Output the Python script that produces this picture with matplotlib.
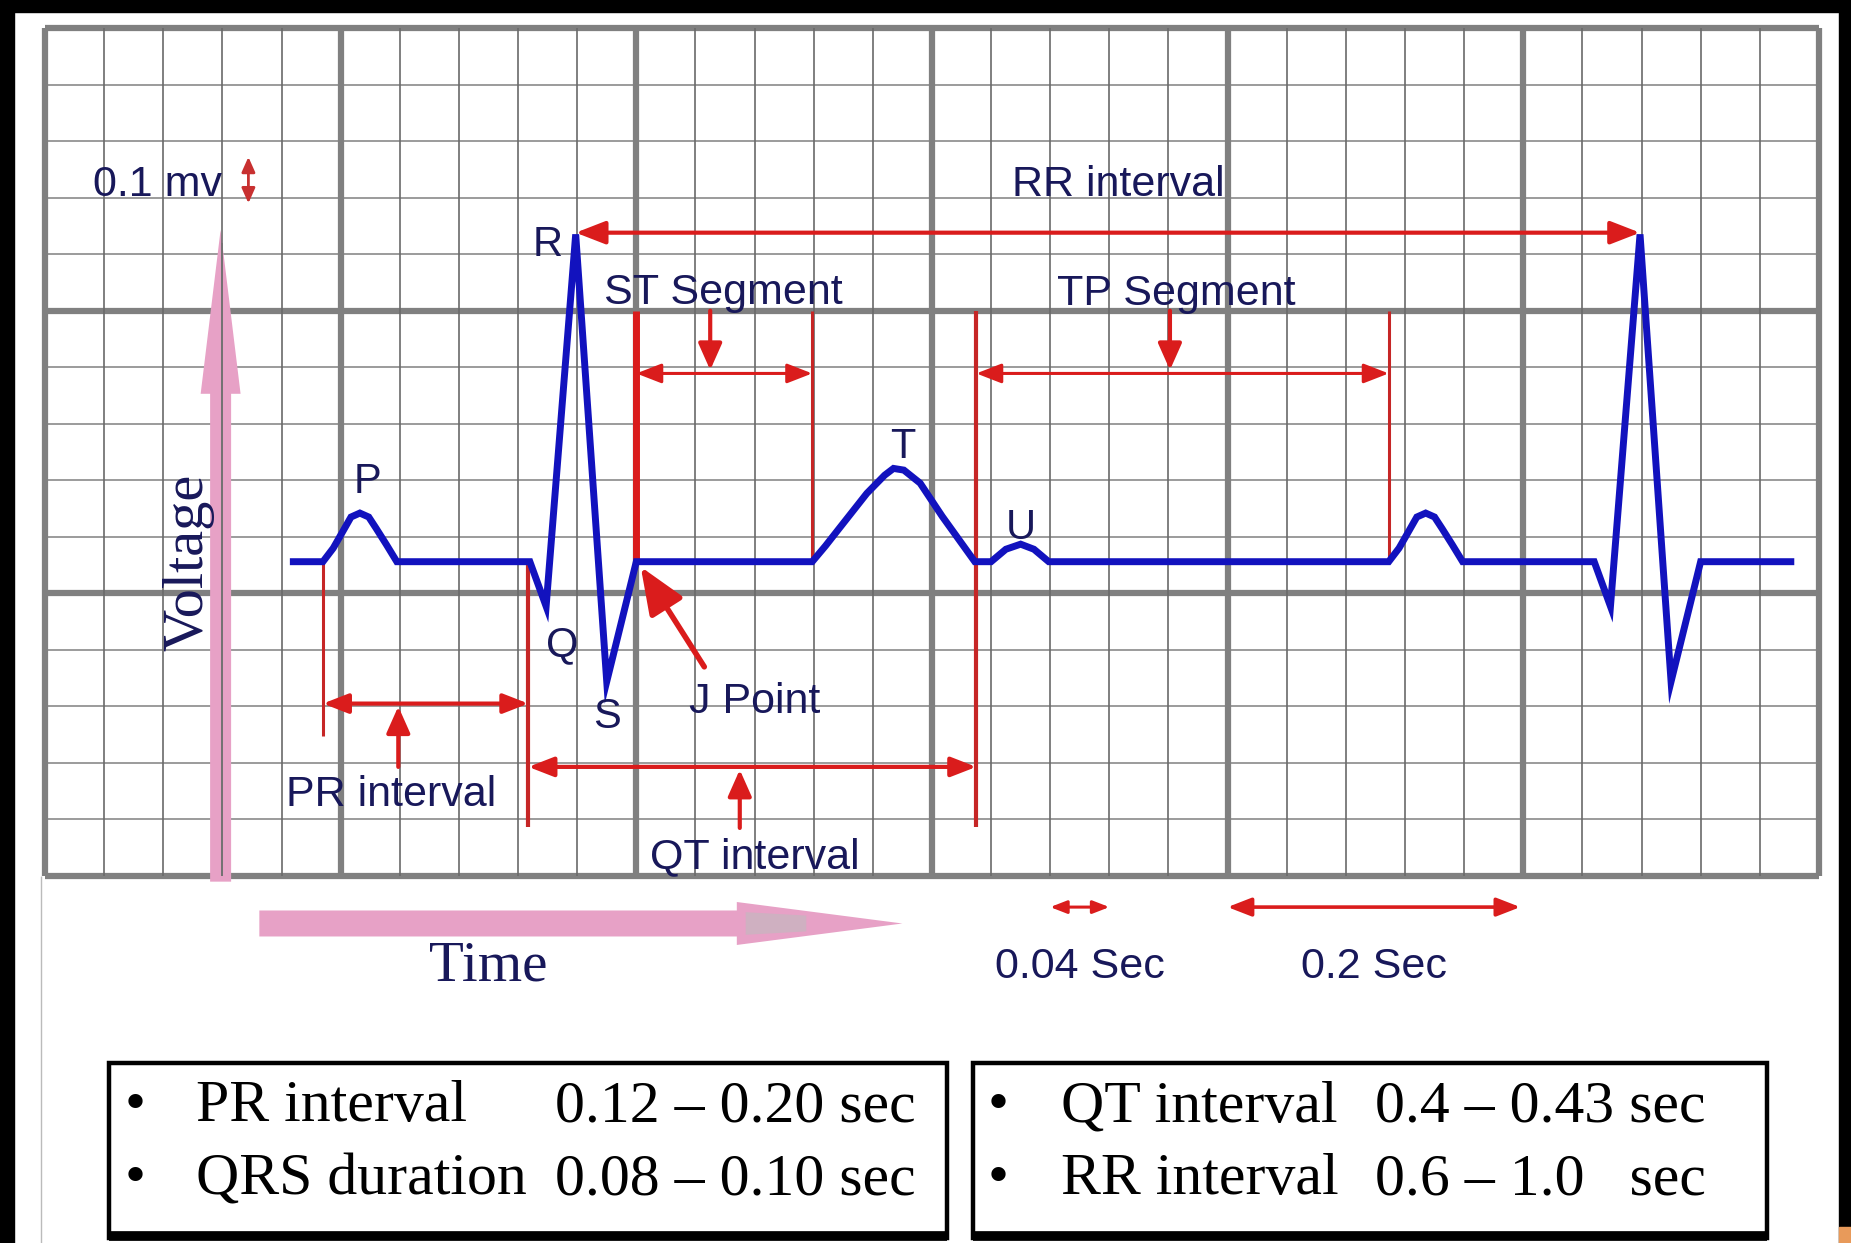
import numpy as np
import matplotlib
matplotlib.use("Agg")
import matplotlib.pyplot as plt
from matplotlib.patches import Rectangle, Polygon

# ===== ECG trace (time in s, paper voltage in mV; 1 small box = 0.04 s x 0.1 mV) =====
ecg_t = [0.168, 0.188, 0.195, 0.202, 0.207, 0.213, 0.219, 0.224, 0.231, 0.238,
         0.328, 0.339, 0.359, 0.380, 0.400,
         0.519, 0.528, 0.537, 0.556, 0.568, 0.574, 0.581, 0.592, 0.607, 0.629,
         0.640, 0.650, 0.660, 0.669, 0.679,
         0.909, 0.916, 0.923, 0.928, 0.934, 0.940, 0.945, 0.952, 0.959,
         1.048, 1.059, 1.079, 1.100, 1.120, 1.181]
ecg_v = [0.556, 0.556, 0.580, 0.612, 0.635, 0.642, 0.635, 0.615, 0.586, 0.556,
         0.556, 0.477, 1.135, 0.344, 0.556,
         0.556, 0.584, 0.614, 0.677, 0.709, 0.721, 0.718, 0.695, 0.636, 0.556,
         0.556, 0.578, 0.587, 0.578, 0.556,
         0.556, 0.580, 0.612, 0.635, 0.642, 0.635, 0.615, 0.586, 0.556,
         0.556, 0.477, 1.135, 0.344, 0.556, 0.556]

# wave labels
wave_names = ["P", "Q", "R", "S", "T", "U"]
wave_x = [0.218, 0.350, 0.340, 0.380, 0.580, 0.660]
wave_y = [0.697, 0.409, 1.117, 0.282, 0.758, 0.616]

# interval markers (vertical bounds): x, y_top, y_bottom, width
bound_x = [0.188, 0.327, 0.400, 0.519, 0.630, 0.909]
bound_top = [0.556, 0.556, 1.000, 1.000, 1.000, 1.000]
bound_bot = [0.247, 0.087, 0.556, 0.556, 0.087, 0.556]
bound_lw = [2.2, 3.0, 5.0, 2.2, 3.0, 2.2]

# double-headed interval arrows: x_start, x_end, y
span_names = ["RR", "ST", "TP", "PR", "QT", "0.04", "0.2"]
span_x0 = [0.359, 0.400, 0.630, 0.188, 0.327, 0.680, 0.800]
span_x1 = [1.079, 0.519, 0.909, 0.327, 0.630, 0.720, 0.998]
span_y = [1.138, 0.889, 0.889, 0.305, 0.193, -0.055, -0.055]
span_lw = [3.0, 2.2, 2.2, 3.0, 3.0, 2.2, 2.6]
span_head = [20, 17, 17, 17, 17, 11, 16]

# pointer arrows: x, y_from, y_to
ptr_x = [0.450, 0.761, 0.239, 0.470]
ptr_y0 = [1.000, 1.000, 0.193, 0.085]
ptr_y1 = [0.895, 0.895, 0.300, 0.188]

# annotation texts
label_text = ["0.1 mv", "RR interval", "ST Segment", "TP Segment",
              "J Point", "PR interval", "QT interval", "0.04 Sec", "0.2 Sec"]
label_x = [0.0764, 0.726, 0.459, 0.765, 0.480, 0.234, 0.480, 0.700, 0.899]
label_y = [1.222, 1.222, 1.032, 1.030, 0.308, 0.143, 0.034, -0.161, -0.161]

# reference table
left_names = ["PR interval", "QRS duration"]
left_vals = ["0.12 \u2013 0.20 sec", "0.08 \u2013 0.10 sec"]
right_names = ["QT interval", "RR interval"]
right_vals = ["0.4 \u2013 0.43 sec", "0.6 \u2013 1.0   sec"]
row_y = [-0.434, -0.563]

NAVY = "#18185A"
RED = "#DA1C1C"
DRED = "#C62626"
BLUE = "#1212BE"
PINK = "#E7A1C6"
SANS = "Liberation Sans"
SERIF = "Liberation Serif"

fig = plt.figure(figsize=(18.51, 12.43), dpi=100)
ax = fig.add_axes([0, 0, 1, 1])
ax.set_xlim(-0.03044, 1.22172)
ax.set_ylim(-0.6492, 1.5496)
ax.axis("off")

# ===== ECG paper grid =====
xs = np.round(np.arange(0, 1.2001, 0.04), 3)
ys = np.round(np.arange(0, 1.5001, 0.1), 3)
for y in ys:
    major = abs(y / 0.5 - round(y / 0.5)) < 1e-6
    ax.hlines(y, 0, 1.2, color="#808080" if major else "#8A8A8A",
              lw=4.5 if major else 1.2, zorder=1)
for x in xs:
    major = abs(x / 0.2 - round(x / 0.2)) < 1e-6
    ax.vlines(x, 0, 1.5, color="#808080" if major else "#6A6A6A",
              lw=4.5 if major else 1.2, zorder=2)

# ===== pink axis arrows =====
ax.arrow(0.1188, -0.01, 0, 1.153, width=0.0142, head_width=0.027,
         head_length=0.29, length_includes_head=True, color=PINK,
         lw=0, zorder=1.5)
ax.vlines(0.12, 0, 1.12, color="#9A9A9A", lw=1.2, zorder=1.6)
ax.arrow(0.145, -0.084, 0.435, 0, width=0.046, head_width=0.076,
         head_length=0.112, length_includes_head=True, color=PINK,
         lw=0, zorder=1.5)
# greyish sheen inside the time arrow head
ax.add_patch(Polygon([(0.474, -0.064), (0.515, -0.070), (0.515, -0.098),
                      (0.474, -0.104)], closed=True, color="#C9B4C0",
                     lw=0, alpha=0.8, zorder=1.6))
ax.text(0.0968, 0.555, "Voltage", rotation=90, ha="center", va="center",
        family=SERIF, fontsize=42, color=NAVY)
ax.text(0.2996, -0.160, "Time", ha="center", va="center",
        family=SERIF, fontsize=41, color=NAVY)

# ===== ECG trace =====
ax.plot(ecg_t, ecg_v, color=BLUE, lw=5, solid_joinstyle="miter", zorder=5)
for name, x, y in zip(wave_names, wave_x, wave_y):
    ax.text(x, y, name, ha="center", va="center", family=SANS,
            fontsize=30, color=NAVY, zorder=6)

# ===== interval markers =====
for x, y0, y1, lw in zip(bound_x, bound_top, bound_bot, bound_lw):
    ax.vlines(x, y1, y0, color=RED if lw > 4 else DRED, lw=lw, zorder=4)

for x0, x1, y, lw, hs in zip(span_x0, span_x1, span_y, span_lw, span_head):
    ax.annotate("", xy=(x1, y), xytext=(x0, y), zorder=4,
                arrowprops=dict(arrowstyle="<|-|>,head_length=0.9,head_width=0.35",
                                color=RED, lw=lw, mutation_scale=hs,
                                shrinkA=0, shrinkB=0))

for x, y0, y1 in zip(ptr_x, ptr_y0, ptr_y1):
    ax.annotate("", xy=(x, y1), xytext=(x, y0), zorder=4,
                arrowprops=dict(arrowstyle="-|>,head_length=0.9,head_width=0.4",
                                color=RED, lw=3, mutation_scale=18,
                                shrinkA=0, shrinkB=0))

# 0.1 mV scale marker
ax.annotate("", xy=(0.1376, 1.272), xytext=(0.1376, 1.190), zorder=4,
            arrowprops=dict(arrowstyle="<|-|>,head_length=0.9,head_width=0.4",
                            color="#C83030", lw=2, mutation_scale=10,
                            shrinkA=0, shrinkB=0))
# J point pointer
ax.annotate("", xy=(0.403, 0.547), xytext=(0.446, 0.370), zorder=4,
            arrowprops=dict(arrowstyle="-|>,head_length=1.1,head_width=0.45",
                            color=RED, lw=4, mutation_scale=26,
                            shrinkA=0, shrinkB=0))

for txt, x, y in zip(label_text, label_x, label_y):
    ax.text(x, y, txt, ha="center", va="center", family=SANS,
            fontsize=31, color=NAVY, zorder=6)

# ===== reference boxes =====
for bx0, bx1 in [(0.043, 0.610), (0.628, 1.165)]:
    ax.add_patch(Rectangle((bx0, -0.640), bx1 - bx0, 0.309, fill=False,
                           ec="black", lw=3.2, zorder=3))
    ax.hlines(-0.636, bx0, bx1, color="black", lw=7, zorder=3)

for names, vals, xb, xn, xv in [(left_names, left_vals, 0.054, 0.102, 0.345),
                                (right_names, right_vals, 0.638, 0.687, 0.900)]:
    for name, val, y in zip(names, vals, row_y):
        ax.text(xb, y, "\u2022", family=SERIF, fontsize=43, va="baseline")
        ax.text(xn, y, name, family=SERIF, fontsize=43, va="baseline")
        ax.text(xv, y, val, family=SERIF, fontsize=43, va="baseline")

# ===== slide frame =====
ax.vlines(-0.0027, -0.6492, 0, color="#BBBBBB", lw=1)
fig.patches.append(Rectangle((0, 1 - 12 / 1243), 1, 12 / 1243,
                             transform=fig.transFigure, color="black"))
fig.patches.append(Rectangle((0, 0), 14 / 1851, 1,
                             transform=fig.transFigure, color="black"))
fig.patches.append(Rectangle((1 - 12 / 1851, 0), 12 / 1851, 1,
                             transform=fig.transFigure, color="black"))
fig.patches.append(Rectangle((1 - 12 / 1851, 0), 12 / 1851, 16 / 1243,
                             transform=fig.transFigure, color="#E89A5A"))

fig.savefig("out.png", dpi=100)
